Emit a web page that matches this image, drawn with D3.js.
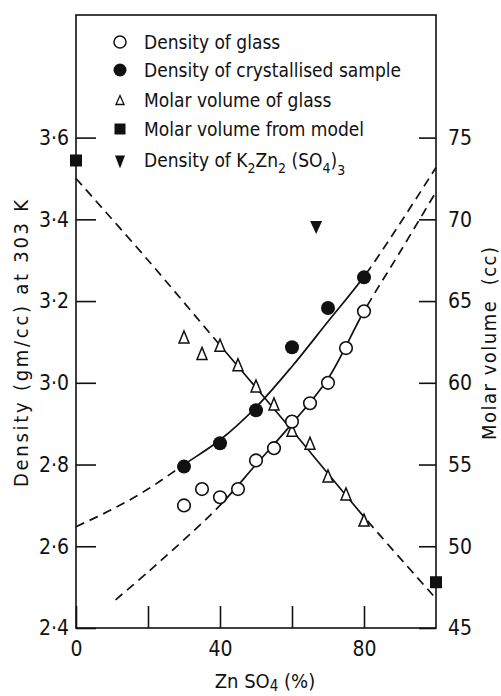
<!DOCTYPE html>
<html lang="en">
<head>
<meta charset="UTF-8">
<title>Density and molar volume vs ZnSO4</title>
<script src="https://cdn.jsdelivr.net/npm/d3@7/dist/d3.min.js"></script>
<style>
  body { margin: 0; background: #fff; }
  svg { display: block; font-family: "Liberation Sans Narrow", "DejaVu Sans Condensed", "Liberation Sans", sans-serif; }
</style>
</head>
<body>
<div class="container"></div>
<script>
  // measured points
  const glassZn = [30, 35, 40, 45, 50, 55, 60, 65, 70, 75, 80]
  const glassDensity = [2.70, 2.74, 2.72, 2.74, 2.81, 2.84, 2.905, 2.95, 3.00, 3.085, 3.175]
  const crystZn = [30, 40, 50, 60, 70, 80]
  const crystDensity = [2.795, 2.852, 2.933, 3.087, 3.183, 3.258]
  const volZn = [30, 35, 40, 45, 50, 55, 60, 65, 70, 75, 80]
  const glassVolume = [62.8, 61.8, 62.3, 61.1, 59.8, 58.7, 57.1, 56.3, 54.3, 53.2, 51.6]
  const modelZn = [0, 100]
  const modelVolume = [73.6, 47.8]
  const compoundZn = [66.7]
  const compoundDensity = [3.38]

  // fitted curves as drawn (solid between the limits, dashed outside)
  const crystCurveZn = [0, 10, 20, 30, 40, 50, 60, 70, 80, 90, 100]
  const crystCurve = [2.648, 2.69, 2.74, 2.80, 2.86, 2.94, 3.04, 3.15, 3.26, 3.39, 3.527]
  const glassCurveZn = [11, 20, 30, 40, 50, 60, 70, 80, 90, 100]
  const glassCurve = [2.469, 2.537, 2.616, 2.70, 2.80, 2.90, 3.01, 3.175, 3.32, 3.467]
  const volCurveZn = [0, 20, 40, 60, 80, 100]
  const volCurve = [72.5, 67.5, 62.3, 57.1, 51.8, 46.8]

  const leftTicks = [2.4, 2.6, 2.8, 3.0, 3.2, 3.4, 3.6]
  const rightTicks = [45, 50, 55, 60, 65, 70, 75]
  const bottomTicks = [0, 20, 40, 60, 80]
  const bottomLabels = [0, 40, 80]

  const svg = d3.select(".container").append("svg")
  svg.attr("width", 501).attr("height", 696)

  const x = d3.scaleLinear().domain([0, 100]).range([76, 436])
  const y = d3.scaleLinear().domain([2.4, 3.9]).range([628, 15])
  const yR = d3.scaleLinear().domain([45, 82.5]).range([628, 15])

  const dot = d => d3.format(".1f")(d).replace(".", "\u00b7")

  // axes
  const gl = svg.append("g").attr("transform", `translate(${x(0)},0)`)
    .call(d3.axisLeft(y).tickValues(leftTicks).tickSize(-20).tickPadding(7).tickFormat(dot))
  const gr = svg.append("g").attr("transform", `translate(${x(100)},0)`)
    .call(d3.axisRight(yR).tickValues(rightTicks).tickSize(-17).tickPadding(12))
  const gb = svg.append("g").attr("transform", `translate(0,${y(2.4)})`)
    .call(d3.axisBottom(x).tickValues(bottomTicks).tickSize(-22).tickPadding(13)
      .tickFormat(d => bottomLabels.includes(d) ? d : ""))

  ;[gl, gr, gb].forEach(g => {
    g.select(".domain").remove()
    g.selectAll("line").attr("stroke", "#111").attr("stroke-width", 1.6)
    g.selectAll("text").attr("font-size", 21).attr("fill", "#111")
      .attr("font-family", "Liberation Sans Narrow, DejaVu Sans Condensed, sans-serif")
  })

  // frame
  svg.append("rect")
    .attr("x", x(0)).attr("y", y(3.9))
    .attr("width", x(100) - x(0)).attr("height", y(2.4) - y(3.9))
    .attr("fill", "none").attr("stroke", "#111").attr("stroke-width", 1.6)

  // curves
  const defs = svg.append("defs")
  let clipN = 0
  function clip(x0, x1) {
    const id = "c" + (clipN++)
    defs.append("clipPath").attr("id", id).append("rect")
      .attr("x", x0).attr("y", 0).attr("width", x1 - x0).attr("height", 696)
    return `url(#${id})`
  }
  const line = d3.line().curve(d3.curveCatmullRom.alpha(0.5))

  function drawCurve(xs, ys, ys_scale, solidFrom, solidTo) {
    const pts = xs.map((v, i) => [x(v), ys_scale(ys[i])])
    const d = line(pts)
    const parts = [
      [0, x(solidFrom), "9,6"],
      [x(solidFrom), x(solidTo), null],
      [x(solidTo), 501, "9,6"]
    ]
    parts.forEach(p => {
      svg.append("path").attr("d", d)
        .attr("fill", "none").attr("stroke", "#111").attr("stroke-width", 1.7)
        .attr("stroke-dasharray", p[2])
        .attr("clip-path", clip(p[0], p[1]))
    })
  }
  drawCurve(volCurveZn, volCurve, yR, 40, 80)
  drawCurve(crystCurveZn, crystCurve, y, 30, 80)
  drawCurve(glassCurveZn, glassCurve, y, 40, 80)

  // marker shapes
  const tri = (w, h) => `M0,${-h / 2}L${w / 2},${h / 2}L${-w / 2},${h / 2}Z`
  const invTri = (w, h) => `M0,${h / 2}L${w / 2},${-h / 2}L${-w / 2},${-h / 2}Z`

  svg.append("g").selectAll("path").data(volZn)
    .join("path")
    .attr("transform", (d, i) => `translate(${x(d)},${yR(glassVolume[i])})`)
    .attr("d", tri(10, 12))
    .attr("fill", "#fff").attr("stroke", "#111").attr("stroke-width", 1.5)

  svg.append("g").selectAll("circle").data(glassZn)
    .join("circle")
    .attr("cx", d => x(d)).attr("cy", (d, i) => y(glassDensity[i]))
    .attr("r", 6.3)
    .attr("fill", "#fff").attr("stroke", "#111").attr("stroke-width", 1.6)

  svg.append("g").selectAll("circle").data(crystZn)
    .join("circle")
    .attr("cx", d => x(d)).attr("cy", (d, i) => y(crystDensity[i]))
    .attr("r", 7).attr("fill", "#111")

  svg.append("g").selectAll("rect").data(modelZn)
    .join("rect")
    .attr("x", d => x(d) - 6).attr("y", (d, i) => yR(modelVolume[i]) - 6)
    .attr("width", 12).attr("height", 12).attr("fill", "#111")

  svg.append("g").selectAll("path").data(compoundZn)
    .join("path")
    .attr("transform", (d, i) => `translate(${x(d)},${y(compoundDensity[i])})`)
    .attr("d", invTri(12, 13)).attr("fill", "#111")

  // legend
  const legendRows = [42, 70, 100, 129, 162]
  const lg = svg.append("g").attr("font-size", 19).attr("fill", "#111")
  const sx = 120, tx = 144
  lg.append("circle").attr("cx", sx).attr("cy", legendRows[0]).attr("r", 6)
    .attr("fill", "#fff").attr("stroke", "#111").attr("stroke-width", 1.5)
  lg.append("circle").attr("cx", sx).attr("cy", legendRows[1]).attr("r", 6.5).attr("fill", "#111")
  lg.append("path").attr("transform", `translate(${sx},${legendRows[2]})`).attr("d", tri(8, 9))
    .attr("fill", "#fff").attr("stroke", "#111").attr("stroke-width", 1.3)
  lg.append("rect").attr("x", sx - 5.5).attr("y", legendRows[3] - 5.5).attr("width", 11).attr("height", 11).attr("fill", "#111")
  lg.append("path").attr("transform", `translate(${sx},${legendRows[4]})`).attr("d", invTri(10, 13)).attr("fill", "#111")

  const legendText = ["Density of glass", "Density of crystallised sample", "Molar volume of glass", "Molar volume from model"]
  legendText.forEach((t, i) => {
    lg.append("text").attr("x", tx).attr("y", legendRows[i]).attr("dy", "0.36em").text(t)
  })
  const k = lg.append("text").attr("x", tx).attr("y", legendRows[4] - 2).attr("dy", "0.36em")
    .style("white-space", "pre")
  k.append("tspan").text("Density of K")
  k.append("tspan").attr("dy", 6).attr("font-size", 14).text("2")
  k.append("tspan").attr("dy", -6).text("Zn")
  k.append("tspan").attr("dy", 6).attr("font-size", 14).text("2")
  k.append("tspan").attr("dy", -6).text(" (SO")
  k.append("tspan").attr("dy", 6).attr("font-size", 14).text("4")
  k.append("tspan").attr("dy", -6).text(")")
  k.append("tspan").attr("dy", 8).attr("font-size", 14).text("3")

  // axis titles
  svg.append("text")
    .attr("transform", `translate(28,${(487 + 200) / 2}) rotate(-90)`)
    .attr("text-anchor", "middle").attr("font-size", 20).attr("fill", "#111")
    .attr("textLength", 287).attr("lengthAdjust", "spacing")
    .text("Density (gm/cc) at 303 K")

  svg.append("text")
    .attr("transform", `translate(496,${(440 + 247) / 2}) rotate(-90)`)
    .attr("text-anchor", "middle").attr("font-size", 20).attr("fill", "#111")
    .attr("textLength", 193).attr("lengthAdjust", "spacing")
    .style("white-space", "pre")
    .text("Molar volume  (cc)")

  const xt = svg.append("text")
    .attr("x", 265).attr("y", 688).attr("text-anchor", "middle")
    .attr("font-size", 20).attr("fill", "#111").style("white-space", "pre")
  xt.append("tspan").text("Zn SO")
  xt.append("tspan").attr("dy", 3).attr("font-size", 15).text("4")
  xt.append("tspan").attr("dy", -3).text(" (%)")
</script>
</body>
</html>
